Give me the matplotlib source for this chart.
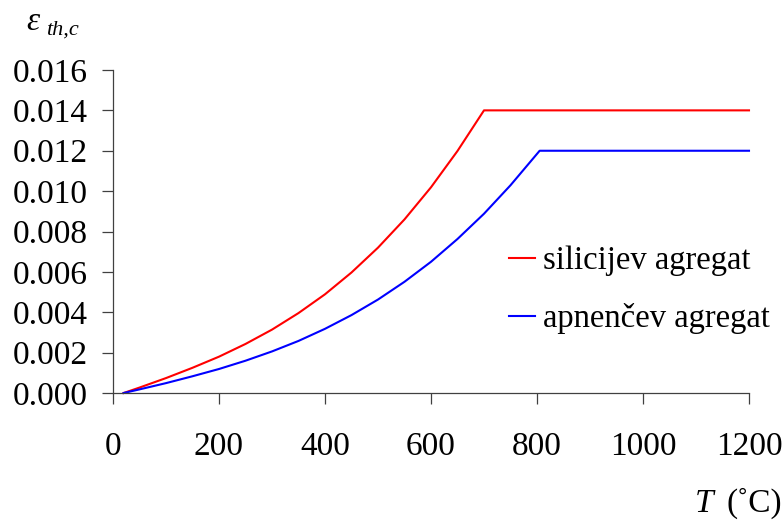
import matplotlib
matplotlib.use('Agg')
import matplotlib.pyplot as plt

plt.rcParams['font.family'] = ['Liberation Serif', 'DejaVu Serif']

# temperature (degC) and thermal strain
temp_sil = [20, 50, 100, 150, 200, 250, 300, 350, 400, 450, 500, 550, 600, 650, 700, 1200]
eps_sil = [0.0000, 0.00027, 0.00074, 0.00125, 0.00180, 0.00243, 0.00314, 0.00396,
           0.00489, 0.00597, 0.00720, 0.00860, 0.01019, 0.01199, 0.01400, 0.01400]

temp_cal = [20, 50, 100, 150, 200, 250, 300, 350, 400, 450, 500, 550, 600, 650,
            700, 750, 805, 1200]
eps_cal = [0.0000, 0.00018, 0.00049, 0.00083, 0.00119, 0.00160, 0.00206, 0.00258,
           0.00318, 0.00386, 0.00463, 0.00551, 0.00650, 0.00763, 0.00888, 0.01029,
           0.01200, 0.01200]

x_ticks = [0, 200, 400, 600, 800, 1000, 1200]
y_ticks = [0.000, 0.002, 0.004, 0.006, 0.008, 0.010, 0.012, 0.014, 0.016]

fig = plt.figure(figsize=(7.82, 5.2), dpi=100)
ax = fig.add_axes([0.1445, 0.2442, 0.8133, 0.6212])

ax.plot(temp_sil, eps_sil, color='#ff0000', lw=1.5, label='silicijev agregat')
ax.plot(temp_cal, eps_cal, color='#0000ff', lw=1.5, label='apnenčev agregat')

ax.set_xlim(0, 1200)
ax.set_ylim(0, 0.016)
ax.set_xticks(x_ticks)
ax.set_yticks(y_ticks)
ax.set_xticklabels([str(t) for t in x_ticks])
ax.set_yticklabels(['%.3f' % v for v in y_ticks])

for side in ['top', 'right']:
    ax.spines[side].set_visible(False)
for side in ['left', 'bottom']:
    ax.spines[side].set_color('#404040')
    ax.spines[side].set_linewidth(0.9)

ax.tick_params(axis='both', direction='out', length=8, width=0.9,
               color='#404040', labelsize=24)
ax.tick_params(axis='x', pad=20)
ax.tick_params(axis='y', pad=10)
for line in ax.get_lines():
    line.set_clip_on(False)

ax.legend(loc='center left', bbox_to_anchor=(0.622, 0.319), frameon=False,
          fontsize=23.5, handlelength=0.8, handletextpad=0.25, labelspacing=0.82,
          borderpad=0, borderaxespad=0)

fig.text(0.033, 0.942, 'ε', fontsize=24, style='italic', va='baseline')
fig.text(0.059, 0.933, 'th,c', fontsize=16, style='italic', va='baseline')

fig.text(0.889, 0.016, 'T', fontsize=24, style='italic', va='baseline')
fig.text(0.929, 0.016, '(˚C)', fontsize=24, va='baseline')

fig.savefig('out.png', dpi=100)
